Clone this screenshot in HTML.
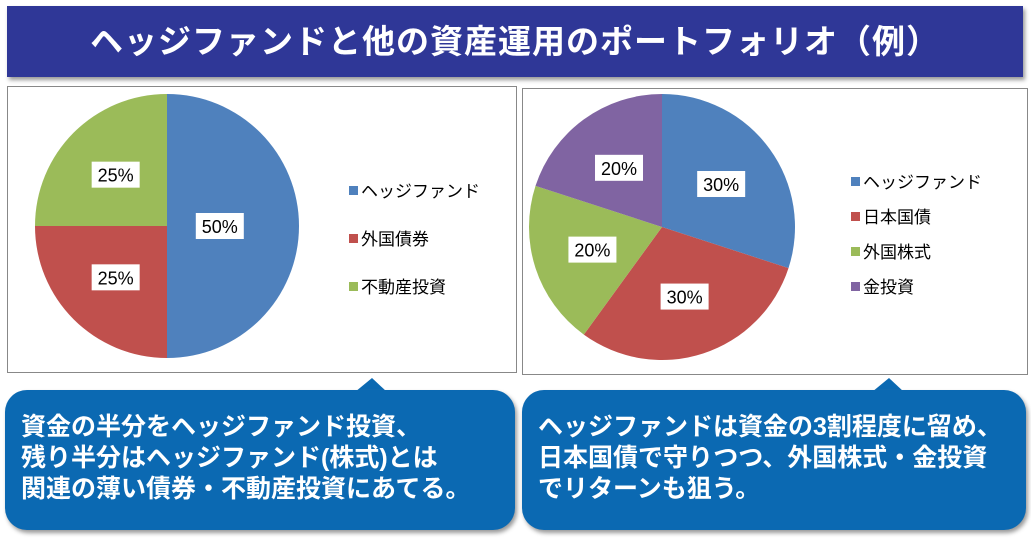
<!DOCTYPE html>
<html><head><meta charset="utf-8"><style>
body{margin:0;width:1031px;height:548px;background:#fff;overflow:hidden;position:relative;font-family:"Liberation Sans","Noto Sans CJK JP",sans-serif}
#title{position:absolute;left:7px;top:6px;width:1016px;height:71px;background:#2f3797;box-shadow:2px 3px 4px #999;color:#fff;font-weight:bold;font-size:33px;text-align:center;line-height:71px;letter-spacing:1px}
.panel{position:absolute;border:1px solid #888;background:#fff}
.bubble{position:absolute;background:#0b69b2;border-radius:22px;box-shadow:2px 3px 4px #999;color:#fff;font-weight:bold;font-size:25px;line-height:31px;padding:22px 0 0 16px;box-sizing:border-box}
</style></head><body>
<div id="title">ヘッジファンドと他の資産運用のポートフォリオ（例）</div>
<div class="panel" style="left:7px;top:86px;width:508px;height:285px"></div>
<div class="panel" style="left:522px;top:88px;width:504px;height:285px"></div>
<svg width="1031" height="548" style="position:absolute;left:0;top:0" id="svg">
<polygon points="355,392 372,378 387,392" fill="#0b69b2"/>
<polygon points="872,392 889,378 904,392" fill="#0b69b2"/>
</svg>
<div class="bubble" style="left:5px;top:390px;width:510px;height:140px">資金の半分をヘッジファンド投資、<br>残り半分はヘッジファンド(株式)とは<br>関連の薄い債券・不動産投資にあてる。</div>
<div class="bubble" style="left:522px;top:390px;width:504px;height:140px">ヘッジファンドは資金の3割程度に留め、<br>日本国債で守りつつ、外国株式・金投資<br>でリターンも狙う。</div>
<script>
const leftCats=["ヘッジファンド","外国債券","不動産投資"];
const leftVals=[50,25,25];
const rightCats=["ヘッジファンド","日本国債","外国株式","金投資"];
const rightVals=[30,30,20,20];
const colors=["#4f81bd","#c0504d","#9bbb59","#8064a2"];
const NS="http://www.w3.org/2000/svg";
const svg=document.getElementById('svg');
function mk(t,a){const e=document.createElementNS(NS,t);for(const k in a)e.setAttribute(k,a[k]);svg.appendChild(e);return e;}
function pie(cx,cy,r,vals,cats,lx,ly,lgap,name){
  const tot=vals.reduce((a,b)=>a+b,0);let acc=0;
  vals.forEach((v,i)=>{
    const a0=acc/tot*2*Math.PI,a1=(acc+v)/tot*2*Math.PI;acc+=v;
    const x0=cx+r*Math.sin(a0),y0=cy-r*Math.cos(a0),x1=cx+r*Math.sin(a1),y1=cy-r*Math.cos(a1);
    const p=mk('path',{d:`M${cx},${cy}L${x0},${y0}A${r},${r} 0 ${a1-a0>Math.PI?1:0} 1 ${x1},${y1}Z`,fill:colors[i]});
    
    
    const am=(a0+a1)/2,lr=r*(v/tot>=0.5?0.4:0.55);
    const tx=cx+lr*Math.sin(am),ty=cy-lr*Math.cos(am);
    const b=mk('rect',{x:tx-24,y:ty-13,width:48,height:26,fill:'#fff'});
    
    
    const t=mk('text',{x:tx,y:ty+7,'text-anchor':'middle','font-size':18,fill:'#000'});
    t.textContent=v+'%';
    
    
    const s=mk('rect',{x:lx,y:ly+i*lgap-5,width:9,height:9,fill:colors[i]});
    
    
    const lt=mk('text',{x:lx+12,y:ly+i*lgap+6,'font-size':17,fill:'#000'});
    lt.textContent=cats[i];
    
    
  });
}
pie(167,226,132,leftVals,leftCats,349,191,48,'left-pie');
pie(662,227,133,rightVals,rightCats,851,182,35,'right-pie');
</script>
</body></html>
